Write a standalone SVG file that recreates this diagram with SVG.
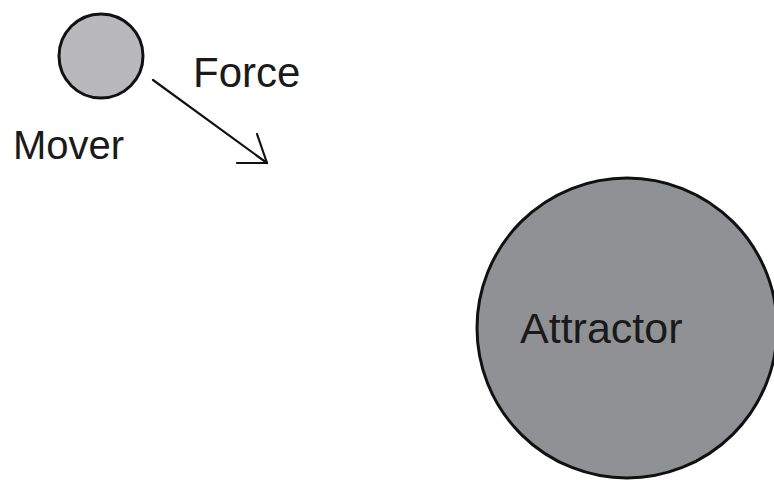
<svg xmlns="http://www.w3.org/2000/svg" width="774" height="484" viewBox="0 0 774 484">
<style>
.lbl{font-family:"Liberation Sans",Arial,sans-serif;fill:#1a1a1a}
.ball{stroke:#111;stroke-width:3}
.conn{stroke:#111;stroke-width:2.2;fill:none;stroke-linecap:round;stroke-linejoin:round}
</style>
<rect width="774" height="484" fill="#fff"/>
<g id="mover">
<circle class="ball" cx="101" cy="56" r="42" fill="#b9b9bb"/>
<text class="lbl" x="13" y="159" font-size="40">Mover</text>
</g>
<g id="attractor">
<circle class="ball" cx="627" cy="328" r="150" fill="#8f9194"/>
<text class="lbl" x="520" y="343" font-size="43">Attractor</text>
</g>
<g id="connectors">
<path class="conn" d="M153 80 L267 163"/>
<path class="conn" d="M237 163 L267 163 L257 134"/>
<text class="lbl" x="193" y="87" font-size="42">Force</text>
</g>
</svg>
